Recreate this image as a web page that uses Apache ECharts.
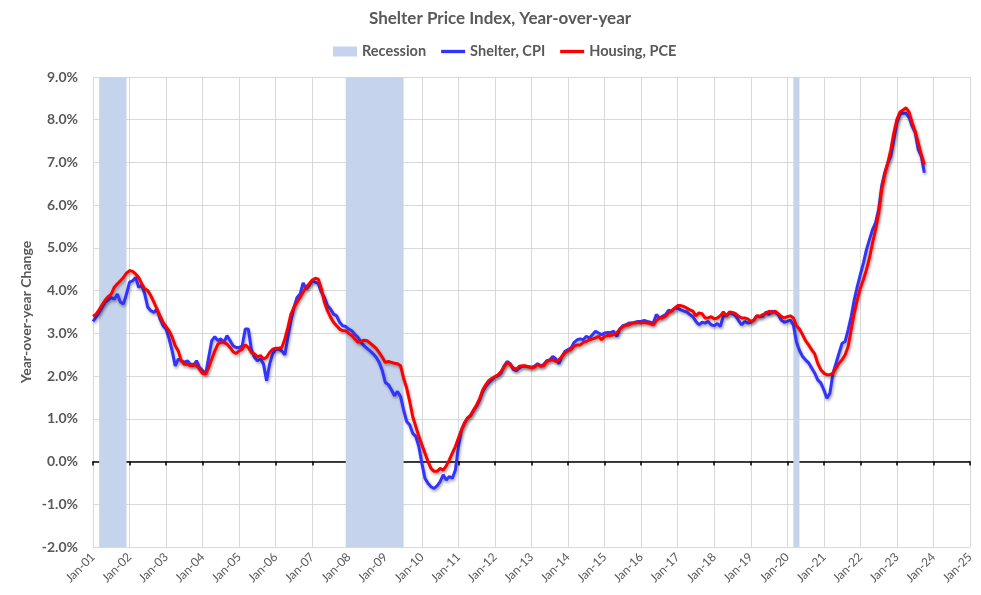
<!DOCTYPE html>
<html>
<head>
<meta charset="utf-8">
<script src="https://cdn.jsdelivr.net/npm/echarts@6/dist/echarts.min.js"></script>
<style>
html,body{margin:0;padding:0;background:#fff;}
#chart{width:981px;height:595px;}
</style>
</head>
<body>
<div id="chart"></div>
<script>
// Monthly data starting Jan 2001
const startYear = 2001;
const shelterCPI = [
  3.28,3.38,3.49,3.61,3.73,3.78,3.84,3.80,3.92,3.73,3.69,3.92,
  4.20,4.23,4.31,4.08,4.12,3.92,3.61,3.53,3.49,3.57,3.34,3.18,
  3.10,2.87,2.59,2.24,2.40,2.36,2.32,2.36,2.28,2.24,2.36,2.20,
  2.13,2.05,2.44,2.83,2.92,2.83,2.87,2.79,2.95,2.83,2.71,2.67,
  2.67,2.71,3.10,3.10,2.63,2.44,2.36,2.40,2.28,1.89,2.28,2.52,
  2.63,2.63,2.59,2.50,2.91,3.30,3.61,3.84,3.92,4.18,4.04,4.12,
  4.23,4.20,4.16,3.96,3.84,3.65,3.57,3.45,3.41,3.26,3.18,3.16,
  3.10,3.06,2.98,2.91,2.79,2.71,2.65,2.59,2.52,2.44,2.32,2.13,
  1.85,1.80,1.68,1.54,1.64,1.52,1.21,0.94,0.86,0.66,0.59,0.35,
  -0.04,-0.39,-0.51,-0.59,-0.63,-0.57,-0.47,-0.31,-0.43,-0.35,-0.39,-0.20,
  0.35,0.74,0.90,1.02,1.07,1.20,1.30,1.45,1.64,1.76,1.85,1.91,
  1.98,2.01,2.07,2.24,2.34,2.29,2.16,2.13,2.19,2.23,2.23,2.22,
  2.21,2.23,2.29,2.24,2.27,2.36,2.38,2.46,2.40,2.29,2.46,2.58,
  2.62,2.66,2.79,2.85,2.87,2.85,2.93,2.89,2.97,3.05,3.01,2.97,
  3.01,3.02,3.02,3.05,2.93,3.10,3.18,3.20,3.24,3.24,3.26,3.28,
  3.28,3.30,3.28,3.26,3.24,3.44,3.36,3.40,3.44,3.54,3.52,3.59,
  3.59,3.55,3.52,3.50,3.44,3.39,3.28,3.20,3.26,3.24,3.28,3.20,
  3.18,3.23,3.16,3.40,3.41,3.48,3.46,3.41,3.30,3.20,3.28,3.24,
  3.26,3.31,3.41,3.39,3.40,3.50,3.44,3.52,3.50,3.44,3.31,3.26,
  3.28,3.31,3.20,2.80,2.60,2.46,2.38,2.31,2.19,2.07,1.91,1.84,
  1.68,1.48,1.60,2.07,2.30,2.54,2.77,2.81,3.09,3.40,3.79,4.10,
  4.38,4.65,4.96,5.20,5.43,5.59,5.90,6.45,6.76,6.99,7.15,7.54,
  7.93,8.13,8.16,8.15,8.05,7.85,7.70,7.30,7.15,6.76
];
const housingPCE = [
  3.40,3.45,3.55,3.67,3.78,3.86,3.92,4.08,4.16,4.23,4.31,4.41,
  4.47,4.45,4.39,4.31,4.16,4.04,4.00,3.88,3.73,3.57,3.41,3.26,
  3.16,3.06,2.91,2.71,2.59,2.36,2.28,2.28,2.24,2.28,2.24,2.16,
  2.06,2.05,2.20,2.40,2.59,2.75,2.79,2.79,2.75,2.67,2.57,2.53,
  2.59,2.63,2.73,2.67,2.55,2.52,2.45,2.48,2.40,2.44,2.55,2.63,
  2.65,2.65,2.67,2.87,3.14,3.45,3.61,3.73,3.84,3.96,4.08,4.16,
  4.25,4.29,4.27,4.04,3.73,3.53,3.38,3.26,3.18,3.10,3.06,3.06,
  3.00,2.95,2.87,2.79,2.81,2.84,2.83,2.77,2.71,2.65,2.55,2.44,
  2.32,2.34,2.32,2.30,2.29,2.24,1.95,1.72,1.41,1.05,0.82,0.59,
  0.39,0.20,0.00,-0.16,-0.23,-0.23,-0.16,-0.20,-0.10,0.04,0.20,0.35,
  0.55,0.74,0.90,1.02,1.09,1.21,1.33,1.48,1.68,1.80,1.90,1.95,
  1.99,2.03,2.11,2.21,2.32,2.27,2.19,2.16,2.23,2.24,2.24,2.22,
  2.19,2.21,2.27,2.23,2.24,2.34,2.37,2.38,2.34,2.38,2.46,2.54,
  2.59,2.62,2.70,2.73,2.73,2.79,2.81,2.85,2.87,2.89,2.93,2.85,
  2.93,2.95,2.95,2.97,3.01,3.10,3.16,3.18,3.20,3.24,3.24,3.26,
  3.24,3.26,3.24,3.23,3.20,3.30,3.36,3.36,3.40,3.48,3.52,3.59,
  3.65,3.65,3.63,3.59,3.55,3.52,3.41,3.48,3.46,3.36,3.36,3.39,
  3.34,3.36,3.41,3.50,3.41,3.50,3.49,3.46,3.40,3.36,3.36,3.34,
  3.28,3.31,3.41,3.40,3.44,3.46,3.52,3.48,3.52,3.46,3.40,3.36,
  3.39,3.41,3.36,3.18,3.10,2.97,2.83,2.73,2.62,2.52,2.30,2.15,
  2.07,2.03,2.03,2.07,2.19,2.30,2.38,2.50,2.70,3.09,3.48,3.79,
  4.06,4.26,4.49,4.77,5.12,5.43,5.82,6.37,6.72,6.99,7.30,7.70,
  8.01,8.18,8.23,8.28,8.18,7.93,7.73,7.46,7.19,6.95
];
// Recessions: [startYear, startMonth, endYear, endMonth] (inclusive months)
const recessions = [
  [2001, 3, 2001, 11],
  [2007, 12, 2009, 6],
  [2020, 3, 2020, 4]
];
const xMin = 2001, xMax = 2025;
const yMin = -2, yMax = 9;

const toX = (i) => startYear + i / 12;
const cpiData = shelterCPI.map((v, i) => [toX(i), v]);
const pceData = housingPCE.map((v, i) => [toX(i), v]);
const recAreas = recessions.map(r => [
  { xAxis: r[0] + (r[1] - 1) / 12 },
  { xAxis: r[2] + r[3] / 12 }
]);

const FONT = 'Lato, "Open Sans", sans-serif';
const GRAY = '#595959';
// thin horizontal bar centred in the legend icon box (padding points fix the bounding box)
const LINE_ICON = 'path://M0,0L0,0M0,3.2L26,3.2L26,6.8L0,6.8ZM26,10L26,10';
const chart = echarts.init(document.getElementById('chart'), null, { renderer: 'canvas' });
const lineShadow = { shadowColor: 'rgba(0,0,0,0.35)', shadowBlur: 3, shadowOffsetX: 1, shadowOffsetY: 2 };

chart.setOption({
  animation: false,
  backgroundColor: '#fff',
  textStyle: { fontFamily: FONT },
  title: {
    text: 'Shelter Price Index, Year-over-year',
    left: 364, top: 5,
    textStyle: { fontFamily: FONT, fontSize: 17, fontWeight: 'bold', color: GRAY }
  },
  legend: {
    top: 39, left: 328,
    itemGap: 15, itemWidth: 24, itemHeight: 10,
    textStyle: { fontFamily: FONT, fontSize: 14.5, fontWeight: 'bold', color: GRAY },
    data: [
      { name: 'Recession', icon: 'rect', itemStyle: { color: '#C5D3EC' } },
      { name: 'Shelter, CPI', icon: LINE_ICON, itemStyle: { color: '#3333FF' } },
      { name: 'Housing, PCE', icon: LINE_ICON, itemStyle: { color: '#FF0000' } }
    ]
  },
  grid: { left: 93, right: 11, top: 77, bottom: 48, containLabel: false },
  xAxis: [
    {
      type: 'value', min: xMin, max: xMax, interval: 1, position: 'bottom',
      axisLine: { show: false, onZero: false },
      axisTick: { show: false },
      splitLine: { show: true, lineStyle: { color: '#D9D9D9', width: 1 } },
      axisLabel: {
        rotate: 45, fontSize: 12, color: GRAY, fontFamily: FONT, margin: 8,
        formatter: v => 'Jan-' + String(Math.round(v)).slice(2)
      }
    },
    {
      type: 'value', min: xMin, max: xMax, interval: 1, position: 'bottom',
      axisLine: { show: true, onZero: true, lineStyle: { color: '#000', width: 1.5 } },
      axisTick: { show: true, length: 4, lineStyle: { color: '#000', width: 1.5 } },
      splitLine: { show: false },
      axisLabel: { show: false }
    }
  ],
  yAxis: {
    type: 'value', min: yMin, max: yMax, interval: 1,
    name: 'Year-over-year Change', nameLocation: 'middle', nameGap: 60, nameRotate: 90,
    nameMoveOverlap: false,
    nameTextStyle: { fontFamily: FONT, fontSize: 14, fontWeight: 'bold', color: GRAY },
    axisLine: { show: false }, axisTick: { show: false },
    splitLine: { show: true, lineStyle: { color: '#D9D9D9', width: 1 } },
    axisLabel: {
      fontSize: 14, fontWeight: 'bold', color: GRAY, fontFamily: FONT, margin: 15,
      formatter: v => v.toFixed(1) + '%'
    }
  },
  series: [
    {
      name: 'Recession', type: 'line', data: [], symbol: 'none',
      itemStyle: { color: '#C5D3EC' },
      markArea: { silent: true, itemStyle: { color: '#C5D3EC' }, data: recAreas }
    },
    {
      name: 'Shelter, CPI', type: 'line', data: cpiData, symbol: 'none', z: 3,
      itemStyle: { color: '#3333FF' },
      lineStyle: Object.assign({ color: '#3333FF', width: 3 }, lineShadow)
    },
    {
      name: 'Housing, PCE', type: 'line', data: pceData, symbol: 'none', z: 4,
      itemStyle: { color: '#FF0000' },
      lineStyle: Object.assign({ color: '#FF0000', width: 3 }, lineShadow)
    }
  ]
});
</script>
</body>
</html>
